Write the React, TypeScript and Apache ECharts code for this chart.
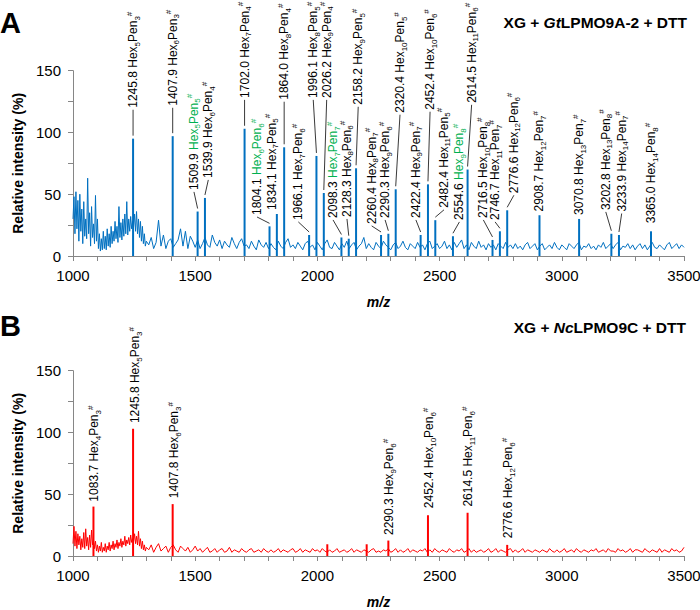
import React, { useEffect, useRef } from 'react';
import * as echarts from 'echarts';

// noise of the spectra: segment 1 from m/z 1000 step 4, segment 2 from m/z 1310 step 10
const SEG1_START = 1000;
const SEG1_STEP = 4;
const SEG2_START = 1310;
const SEG2_STEP = 10;

const noiseA1 = [30,48,18,52,22,45,12,50,20,38, 10,44,16,30,14,63,18,35,8,40, 15,26,10,49,12,30,6,18,4,14, 5,20,6,16,5,22,8,18,7,24, 10,20,12,28,14,24,11,40,15,27, 13,30,16,34,18,44,17,30,20,32, 22,28,24,34,20,36,18,30,15,28, 12,24,10,18,8,12];
const noiseA2 = [
  9,15,6,11,29,8,17,6,12,14, 7,10,13,22,8,20,6,16,12,7, 13,6,10,15,9,7,17,11,8,13, 6,12,9,7,15,10,6,11,14,8,
  9,6,12,8,5,13,9,7,11,6, 10,7,5,12,8,6,11,14,7,9, 6,11,8,5,10,12,7,9,5,11, 8,5,10,13,7,6,11,8,5,10,
  7,12,6,9,11,5,8,10,15,6, 10,7,5,11,8,6,12,9,7,5, 9,11,6,8,12,7,5,10,8,6, 11,7,9,5,10,12,6,8,10,6,
  8,12,6,9,5,11,7,10,13,6, 9,5,11,8,6,12,7,9,5,10, 7,9,5,10,8,6,11,7,9,6, 10,6,8,5,9,11,6,8,10,5,
  8,10,5,7,9,6,11,7,5,9, 7,5,10,8,6,9,11,5,8,7, 10,6,8,5,9,7,11,6,8,10, 6,9,11,5,8,7,10,6,9,5,
  8,10,6,9,5,8,11,7,6,9, 7,5,9,11,6,8,10,6,9,7,
];
const noiseB1 = [10,24,8,20,6,18,9,16,5,14, 7,19,6,22,8,15,5,17,7,21, 9,13,6,12,4,9,3,8,4,11, 3,7,4,10,3,8,5,11,4,9, 6,12,5,10,7,13,6,11,8,14, 7,12,9,16,8,13,10,15,9,17, 11,14,12,18,10,16,9,20,8,14, 6,12,5,9,4,7];
const noiseB2 = [
  5,9,3,7,10,4,6,8,3,7, 9,5,3,8,6,4,7,3,5,8, 4,6,3,5,7,3,4,6,3,5, 6,3,4,7,3,5,4,3,6,4,
  3,5,6,3,4,5,3,6,4,3, 5,3,4,6,3,5,4,3,5,6, 3,4,6,3,5,4,3,6,4,5, 3,6,4,3,5,3,4,6,3,4,
  5,3,4,6,3,5,4,3,5,4, 3,5,6,3,4,3,5,4,6,3, 4,6,3,5,3,4,6,3,5,4, 3,5,4,6,3,5,3,6,4,3,
  5,4,3,6,4,3,5,4,6,3, 4,6,3,5,3,4,5,3,4,6, 3,4,6,3,5,4,3,5,6,3, 5,3,4,6,3,5,4,3,5,4,
  3,5,4,3,6,4,3,5,3,4, 6,3,4,5,3,6,4,3,5,4, 3,5,4,6,3,4,5,3,6,4, 4,3,6,4,5,3,4,6,3,5,
  5,4,3,6,4,3,5,4,3,6, 3,5,4,3,6,4,5,3,4,7,
];

// peaks: [m/z, relative intensity]
const peaksA: [number, number][] = [
  [1245.8, 95], [1407.9, 97], [1509.9, 36], [1539.9, 47], [1702.0, 103],
  [1804.1, 24], [1834.1, 34], [1864.0, 88], [1966.1, 17], [1996.1, 81],
  [2026.2, 51], [2098.3, 15], [2128.3, 14], [2158.2, 71], [2260.4, 17],
  [2290.3, 18], [2320.4, 54], [2422.4, 17], [2452.4, 58], [2482.4, 29],
  [2554.6, 16], [2614.5, 70], [2716.5, 13], [2746.7, 20], [2776.6, 37],
  [2908.7, 33], [3070.8, 30], [3202.8, 18], [3233.9, 17], [3365.0, 20],
];
const peaksB: [number, number][] = [
  [1083.7, 40], [1245.8, 103], [1407.8, 42], [2040.5, 9.5], [2201.6, 9.5],
  [2290.3, 12.5], [2452.4, 33], [2614.5, 35], [2776.6, 9],
];

// annotations: [m/z, Hex count, Pen count, green (1 = highlighted)]
const labelsA: [number, number, number, number][] = [
  [1245.8, 5, 3, 0], [1407.9, 6, 3, 0], [1509.9, 5, 5, 1], [1539.9, 6, 4, 0],
  [1702.0, 7, 4, 0], [1804.1, 6, 6, 1], [1834.1, 7, 5, 0], [1864.0, 8, 4, 0],
  [1966.1, 7, 6, 0], [1996.1, 8, 5, 0], [2026.2, 9, 4, 0], [2098.3, 7, 7, 1],
  [2128.3, 8, 6, 0], [2158.2, 9, 5, 0], [2260.4, 8, 7, 0], [2290.3, 9, 6, 0],
  [2320.4, 10, 5, 0], [2422.4, 9, 7, 0], [2452.4, 10, 6, 0], [2482.4, 11, 5, 0],
  [2554.6, 9, 8, 1], [2614.5, 11, 6, 0], [2716.5, 10, 8, 0], [2746.7, 11, 7, 0],
  [2776.6, 12, 6, 0], [2908.7, 12, 7, 0], [3070.8, 13, 7, 0], [3202.8, 13, 8, 0],
  [3233.9, 14, 7, 0], [3365.0, 14, 8, 0],
];
const labelsB: [number, number, number, number][] = [
  [1083.7, 4, 3, 0], [1245.8, 5, 3, 0], [1407.8, 6, 3, 0], [2290.3, 9, 6, 0],
  [2452.4, 10, 6, 0], [2614.5, 11, 6, 0], [2776.6, 12, 6, 0],
];
// layout: where each annotation text starts, in axis units [m/z, intensity]
const anchorsA: [number, number][] = [
  [1245.8, 120], [1407.9, 121.6], [1495, 53.5], [1553.6, 63.2],
  [1702, 128], [1753, 33.2], [1814, 37.3], [1864, 126.5],
  [1922, 29.2], [1983, 128], [2038, 128], [2064, 30.8],
  [2121, 31.6], [2167, 122.4], [2222, 26], [2277, 30.8],
  [2338, 116], [2403, 30.8], [2461, 118.4], [2518, 39],
  [2581, 29.2], [2631, 124], [2679, 30.8], [2727, 29.2],
  [2804, 50.8], [2908.7, 36], [3070.8, 33.2], [3180, 37.3],
  [3245, 36], [3365, 26.5],
];
const anchorsB: [number, number][] = [
  [1087, 44], [1254, 107.6], [1414.5, 46.8], [2294, 17],
  [2458, 38.7], [2617, 40], [2781, 14.3],
];

const xTicks = { min: 1000, max: 3500, minor: 100, major: 500 };
const yTicks = { min: 0, max: 150, minor: 25, major: 50 };

// ---------- styles ----------
const FONT = '"Liberation Sans", Arial, Helvetica, sans-serif';
const AXIS_GRAY = '#868686';
const BLUE = '#0070C0';
const RED = '#FF0000';
const GREEN = '#00B050';

const RICH: any = {
  n: { fontSize: 12, fontFamily: FONT, fill: '#000', lineHeight: 16 },
  s: { fontSize: 8, fontFamily: FONT, fill: '#000', lineHeight: 9, verticalAlign: 'bottom' },
  p: { fontSize: 8, fontFamily: FONT, fill: '#000', lineHeight: 9, verticalAlign: 'top' },
  g: { fontSize: 12, fontFamily: FONT, fill: GREEN, lineHeight: 16 },
  gs: { fontSize: 8, fontFamily: FONT, fill: GREEN, lineHeight: 9, verticalAlign: 'bottom' },
  gp: { fontSize: 8, fontFamily: FONT, fill: GREEN, lineHeight: 9, verticalAlign: 'top' },
};

function labelText(l: [number, number, number, number]) {
  const [mz, hex, pen, green] = l;
  const g = green ? 'g' : 'n';
  const s = green ? 'gs' : 's';
  const p = green ? 'gp' : 'p';
  return `{n|${mz.toFixed(1)} }{${g}|Hex}{${s}|${hex}}{${g}|Pen}{${s}|${pen}}{${p}|#}`;
}

function buildLine(n1: number[], n2: number[]) {
  const out: [number, number][] = [];
  n1.forEach((v, i) => out.push([SEG1_START + i * SEG1_STEP, v]));
  n2.forEach((v, i) => out.push([SEG2_START + i * SEG2_STEP, v]));
  return out;
}

function peakHeight(peaks: [number, number][], mz: number) {
  const pk = peaks.find((p) => p[0] === mz);
  return pk ? pk[1] : 0;
}

function makeRender(labels: [number, number, number, number][], anchors: [number, number][], peaks: [number, number][], lead: boolean) {
  return (params: any, api: any) => {
    const i = params.dataIndex;
    const lab = labels[i];
    const a = api.coord(anchors[i]);
    const t = api.coord([lab[0], peakHeight(peaks, lab[0])]);
    const children: any[] = [];
    if (lead) {
      const x1 = a[0], y1 = a[1] + 2, x2 = t[0], y2 = t[1] - 3;
      if (y2 - y1 > 4) {
        children.push({ type: 'line', shape: { x1, y1, x2, y2 }, style: { stroke: '#222', lineWidth: 0.9 } });
      }
    }
    children.push({
      type: 'text', x: a[0], y: a[1], rotation: Math.PI / 2,
      style: { text: labelText(lab), rich: RICH, align: 'left', verticalAlign: 'middle', fontFamily: FONT, fontSize: 12, fill: '#000' },
    });
    return { type: 'group', children };
  };
}

function xAxis(gridIndex: number) {
  return {
    type: 'value', gridIndex, min: xTicks.min, max: xTicks.max, interval: xTicks.minor,
    name: 'm/z', nameLocation: 'middle', nameGap: 39,
    nameTextStyle: { fontWeight: 'bold', fontStyle: 'italic', fontSize: 14, fontFamily: FONT, color: '#000' },
    axisLine: { show: true, onZero: false, lineStyle: { color: AXIS_GRAY, width: 1 } },
    axisTick: { show: true, inside: false, length: 5, lineStyle: { color: AXIS_GRAY } },
    axisLabel: { formatter: (v: number) => (v % xTicks.major === 0 ? String(v) : ''), fontSize: 15, fontFamily: FONT, color: '#000', margin: 12 },
    splitLine: { show: false },
  };
}
function yAxis(gridIndex: number) {
  return {
    type: 'value', gridIndex, min: yTicks.min, max: yTicks.max, interval: yTicks.minor,
    name: 'Relative intensity (%)', nameLocation: 'middle', nameGap: 44,
    nameTextStyle: { fontWeight: 'bold', fontSize: 14, fontFamily: FONT, color: '#000' },
    axisLine: { show: true, lineStyle: { color: AXIS_GRAY, width: 1 } },
    axisTick: { show: true, inside: false, length: 5, lineStyle: { color: AXIS_GRAY } },
    axisLabel: { formatter: (v: number) => (v % yTicks.major === 0 ? String(v) : ''), fontSize: 15, fontFamily: FONT, color: '#000', margin: 12 },
    splitLine: { show: false },
  };
}

const titleRich = (size: number) => ({
  b: { fontSize: size, fontWeight: 'bold', fontFamily: FONT, fill: '#000' },
  i: { fontSize: size, fontWeight: 'bold', fontStyle: 'italic', fontFamily: FONT, fill: '#000' },
});

export default function App() {
  const ref = useRef<HTMLDivElement>(null);
  useEffect(() => {
    const chart = echarts.init(ref.current!, undefined, { renderer: 'svg' });
    const option: any = {
      animation: false,
      backgroundColor: '#fff',
      grid: [
        { left: 73, right: 16, top: 70.7, height: 185.3, containLabel: false, outerBoundsMode: 'none' },
        { left: 73, right: 16, top: 370.7, height: 185.3, containLabel: false, outerBoundsMode: 'none' },
      ],
      xAxis: [xAxis(0), xAxis(1)],
      yAxis: [yAxis(0), yAxis(1)],
      graphic: [
        { type: 'text', left: 0, top: 8, style: { text: 'A', font: `bold 29px ${FONT}`, fill: '#000' } },
        { type: 'text', left: 0, top: 311, style: { text: 'B', font: `bold 29px ${FONT}`, fill: '#000' } },
        { type: 'text', right: 13, top: 14, style: { text: '{b|XG + }{i|Gt}{b|LPMO9A-2 + DTT}', rich: titleRich(15.5) } },
        { type: 'text', right: 14, top: 319, style: { text: '{b|XG + }{i|Nc}{b|LPMO9C + DTT}', rich: titleRich(15.5) } },
      ],
      series: [
        { type: 'line', xAxisIndex: 0, yAxisIndex: 0, data: buildLine(noiseA1, noiseA2), symbol: 'none', showSymbol: false, lineStyle: { color: BLUE, width: 1 }, silent: true, z: 2 },
        { type: 'bar', xAxisIndex: 0, yAxisIndex: 0, data: peaksA, barWidth: 2, itemStyle: { color: BLUE }, silent: true, z: 3 },
        { type: 'custom', xAxisIndex: 0, yAxisIndex: 0, data: labelsA.map((l) => [l[0], peakHeight(peaksA, l[0])]), renderItem: makeRender(labelsA, anchorsA, peaksA, true), silent: true, z: 4 },
        { type: 'line', xAxisIndex: 1, yAxisIndex: 1, data: buildLine(noiseB1, noiseB2), symbol: 'none', showSymbol: false, lineStyle: { color: RED, width: 1 }, silent: true, z: 2 },
        { type: 'bar', xAxisIndex: 1, yAxisIndex: 1, data: peaksB, barWidth: 2, itemStyle: { color: RED }, silent: true, z: 3 },
        { type: 'custom', xAxisIndex: 1, yAxisIndex: 1, data: labelsB.map((l) => [l[0], peakHeight(peaksB, l[0])]), renderItem: makeRender(labelsB, anchorsB, peaksB, false), silent: true, z: 4 },
      ],
    };
    chart.setOption(option);
    return () => chart.dispose();
  }, []);
  return <div ref={ref} style={{ position: 'fixed', left: 0, top: 0, width: 700, height: 610, background: '#fff' }} />;
}
